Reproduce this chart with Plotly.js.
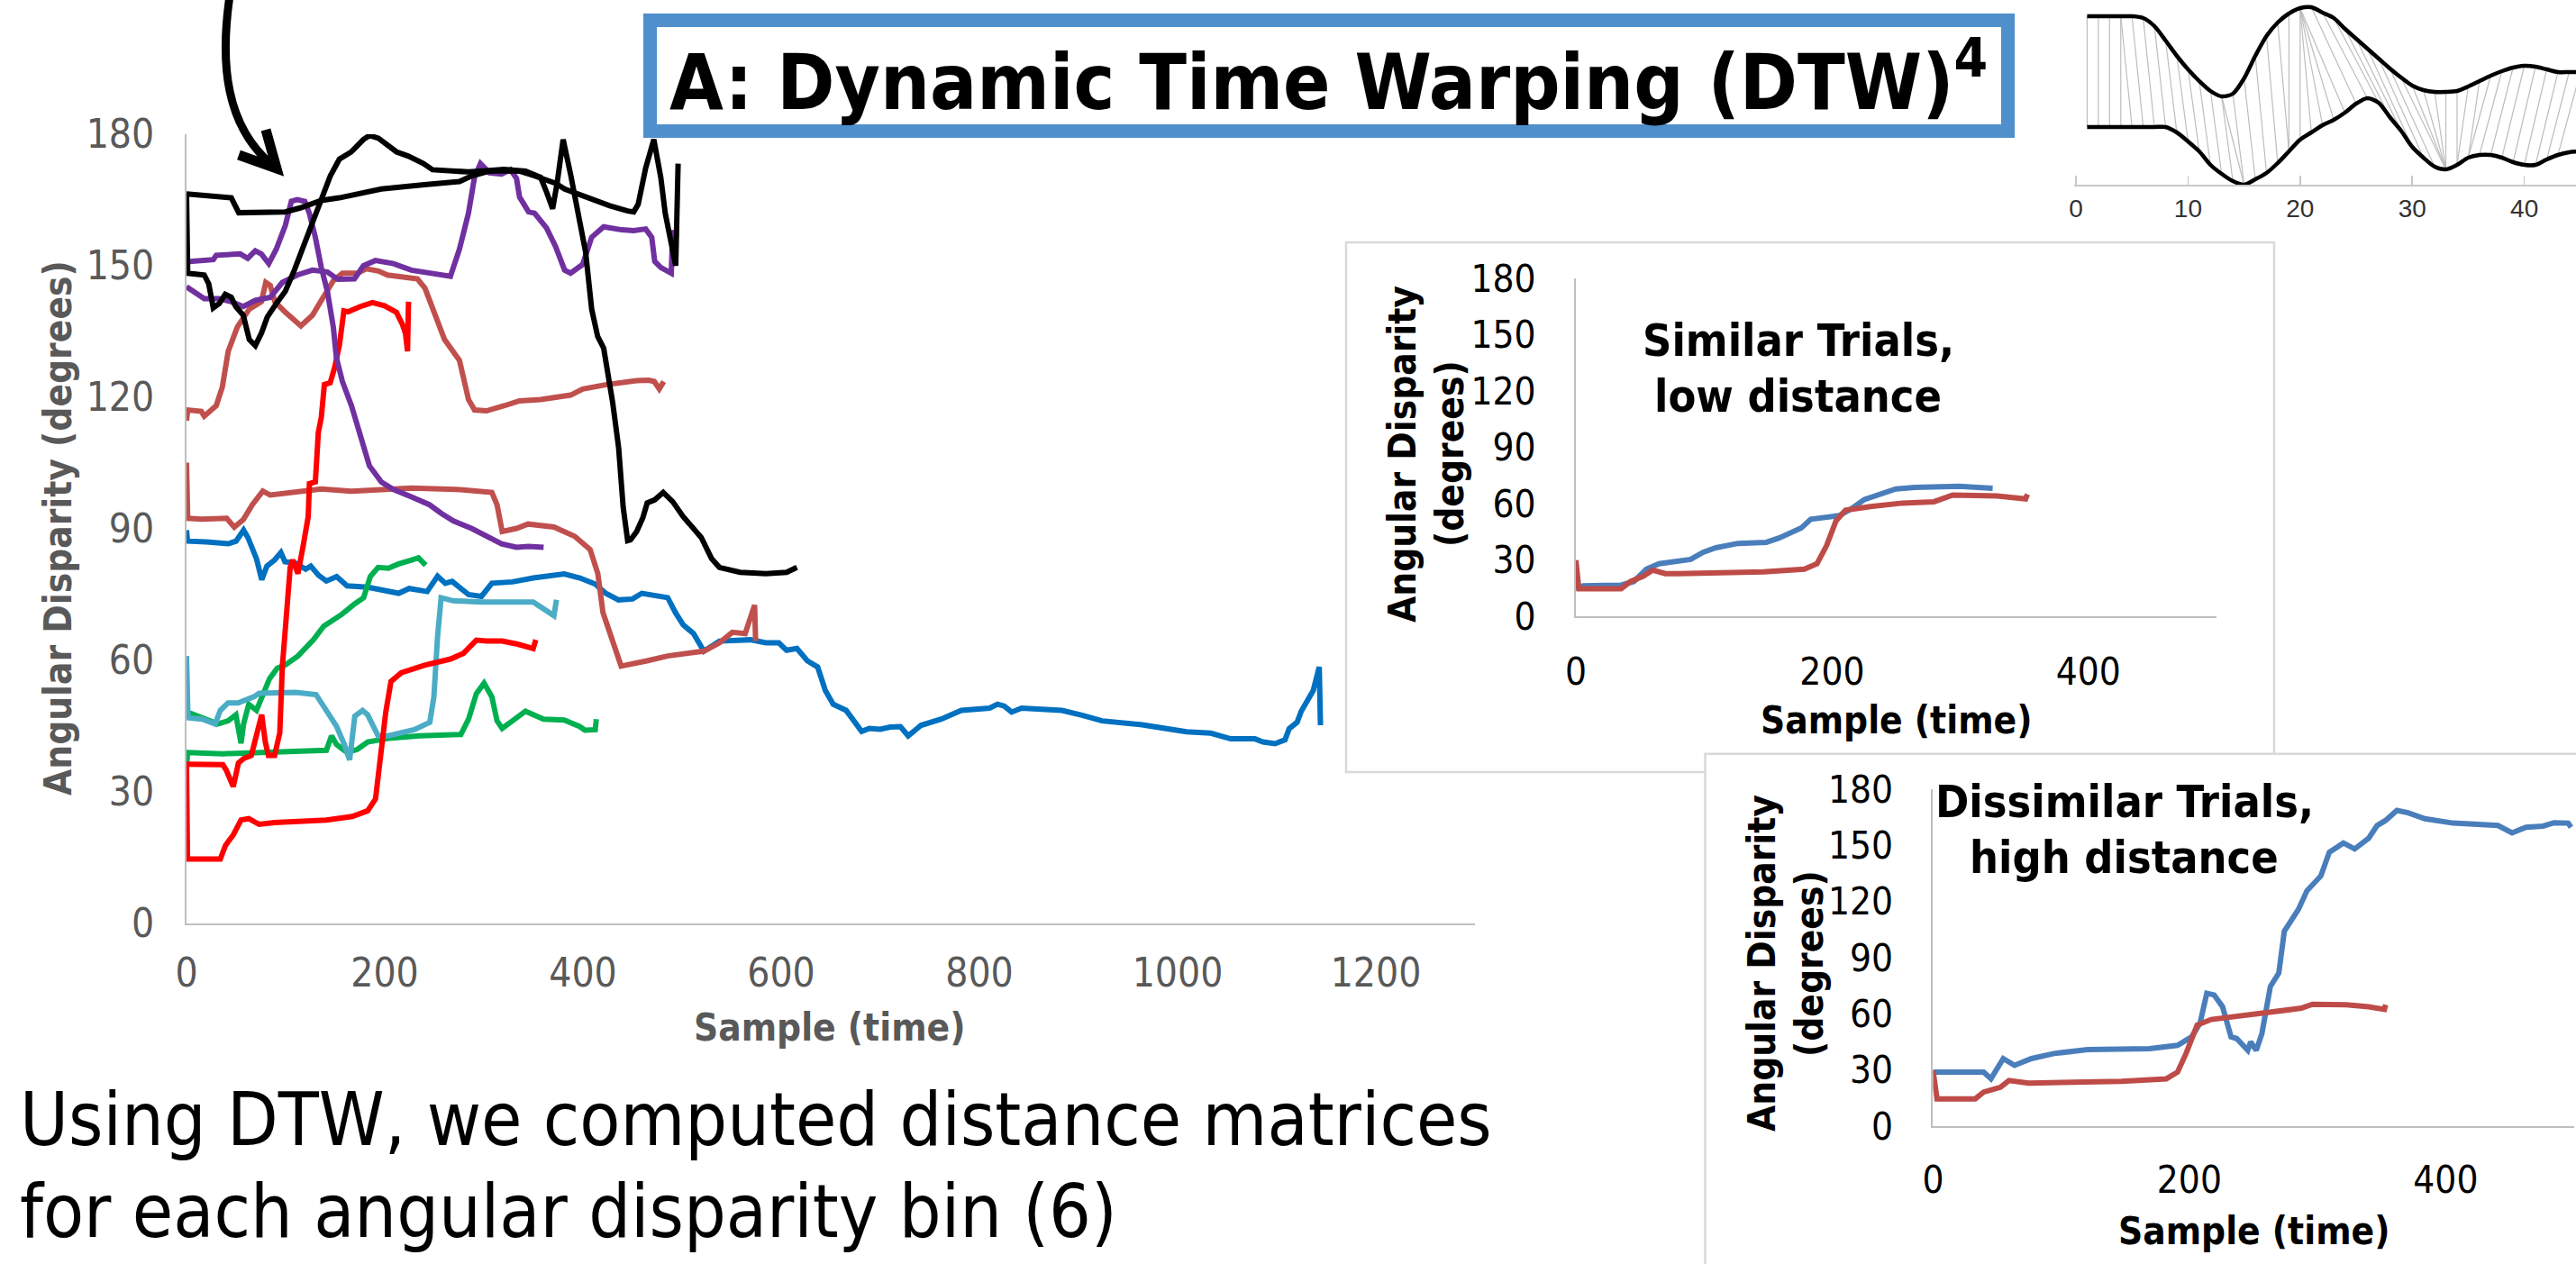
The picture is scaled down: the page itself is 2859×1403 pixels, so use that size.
<!DOCTYPE html>
<html><head><meta charset="utf-8">
<script src="https://cdn.plot.ly/plotly-3.0.1.min.js"></script>
<style>html,body{margin:0;padding:0;background:#fff;overflow:hidden}#chart{width:2859px;height:1403px}</style>
</head><body><div id="chart"></div>
<script>
// ---------- Main chart series: [sample, angular disparity] ----------
const blueMain = [[0,89.7],[1,87.2],[20,87],[42,86.6],[50,87.2],[57.6,89.7],[62,88],[65.4,86],[70.6,83.2],[75.9,78.4],[81.1,81.5],[88.9,82.9],[95.2,84.6],[99.3,82.5],[109.8,82.2],[120.2,80.8],[125.4,81.5],[133.3,79.4],[141.1,78.1],[151.5,79.1],[162,77],[182.8,76.7],[214.1,75.3],[224.6,76.4],[242.8,75.7],[253.3,79.2],[261.1,77.6],[268,78],[284.6,75],[297.6,74.6],[308.1,77.6],[328.9,77.9],[349.8,78.8],[381.1,79.7],[396.8,78.8],[412.4,77.4],[422.9,75.3],[435.9,73.8],[450,74],[459.4,75.3],[470,74.8],[485.5,74.3],[493.3,70.9],[501.1,68.1],[511.6,66.1],[522,62.1],[537.7,64.4],[553.3,64.6],[568.9,64.7],[584.6,64],[597.6,64],[605.5,62.3],[615.9,62.7],[626.4,59.9],[636.8,58.5],[644.6,53.1],[652.5,50],[665.5,48.6],[673.3,46.2],[681.2,43.8],[689,44.5],[700,44.3],[710,44.8],[720.3,44.9],[728.1,42.8],[741.2,45.2],[761.5,46.6],[781.8,48.6],[810.2,49.1],[818.3,50],[825,49.6],[832.5,48.2],[842.6,49.1],[883.2,48.6],[903.5,47.5],[923.8,46.2],[964.4,45.3],[992.8,44.4],[1009,43.7],[1033.4,43.4],[1053.6,42.1],[1078,42.1],[1086.1,41.4],[1098.3,41],[1108.4,41.9],[1112.5,44.4],[1120.6,45.9],[1124.7,48.4],[1130.8,51],[1136.8,53.1],[1142.9,58.5],[1144.1,45.2]];
const greenRise = [[0,48.3],[2.8,48],[15.9,46.9],[31.5,45.5],[42,46.2],[49.8,47.6],[55,41.1],[57.6,45.5],[62.8,50],[70.6,48.6],[75.9,51.7],[83.7,55.8],[91.5,58.2],[99.3,58.9],[112.4,61],[128.1,64.7],[138.5,67.8],[156.7,70.5],[169.8,72.9],[178.7,74.3],[185.4,79.1],[193.3,81.2],[203.7,81],[214.1,82],[227.2,82.9],[234,83.4],[241.3,81.7]];
const greenLow = [[0,35.3],[1,39],[36.7,38.7],[88,39],[141.1,39.5],[146.3,42.8],[151.5,40.8],[161.9,39],[172.4,39.7],[182.8,41.4],[203.7,42.2],[235,42.8],[276.8,43.1],[284.6,46.6],[292.4,52.4],[300.2,54.8],[308.1,51.7],[313.3,46.2],[318.5,44.5],[328.9,46.2],[342,48.4],[360.3,46.6],[381.1,46.4],[396.8,44.9],[402,44.1],[412.4,44.2],[413.5,46.6]];
const lightBlue = [[0,61],[1.5,46.9],[15.9,46.6],[28.9,45.5],[34.1,48.6],[41.9,50.3],[52,50.3],[68,51.7],[73.3,52.5],[88.9,52.7],[110,52.7],[130.7,52.2],[138.5,49.6],[151.5,44.9],[159.4,40.7],[164.6,37.3],[169.8,47.3],[177.6,48.6],[182.8,47.6],[193.3,42.8],[203.7,42.8],[229.8,44.2],[245.5,45.9],[249.6,51.7],[253.3,65.4],[256.9,74.3],[268.9,73.6],[297.6,73.3],[349.8,73.3],[360.3,71.6],[370.7,70.2],[373.3,73.8]];
const brownHigh = [[0,114.7],[1.2,117.1],[14.9,116.8],[17.9,115.7],[30,118.1],[36.1,122.3],[42.1,130.5],[51.2,136],[63.3,140.1],[75.5,141.8],[80,146.2],[84.5,145.5],[89.1,141.8],[99.7,139.4],[115.4,136.3],[127,138.7],[136,142.1],[148.2,146.6],[157.3,148.3],[172.4,148.3],[181.5,149.3],[193.6,148.8],[202.7,147.9],[233,147],[240.6,144.9],[251.2,138.7],[260.3,133.2],[275.4,128.4],[284.5,119.5],[290.6,117.1],[302.7,116.9],[320.9,118.1],[336,119.2],[357.2,119.5],[387.5,120.5],[399.7,121.9],[423.9,122.9],[454.2,123.8],[466.3,123.9],[472,123.6],[477,121.9],[481.5,123.6]];
const brownMid = [[0,105.1],[1.2,92.4],[14.9,92.2],[40.6,92.4],[48.2,90.4],[57.3,92.1],[66.4,95.5],[77,98.6],[84.5,97.7],[105.8,98.3],[136,99.1],[166.4,98.6],[226.9,99.3],[272.4,99],[308.1,98.3],[313.3,95.5],[318.5,89.4],[333,90.1],[344.6,91.1],[370.7,90.4],[391.6,88.3],[407.2,85.3],[415,79.8],[420.2,70.9],[428.1,65.4],[438.5,58.7],[464.6,59.9],[485.5,61],[522,62.1],[537.7,64],[550.7,66.4],[563.7,66.1],[573.2,72.6],[574.2,64.4]];
const redHigh = [[0,36.3],[36.7,36.2],[40,35],[47.2,31.2],[52.4,36.6],[57.6,37.6],[65.4,38.3],[73.3,46.2],[75.9,47.6],[79.5,41.4],[82.6,38.3],[88.9,38.3],[94.1,43.5],[96.7,58.6],[100.4,68.8],[104.6,81.2],[107.2,82.9],[112.4,79.8],[117.6,86],[122.8,92.8],[124,100.3],[130,100.7],[133,112],[136,115.4],[139.1,122.9],[145,123.3],[149.7,127],[154.2,131.8],[158.8,139.7],[163,139.5],[175.4,140.7],[187.6,141.6],[199.7,140.9],[211.8,139.4],[217.9,136.6],[220.9,134.6],[223,130.5],[224,141.8]];
const redLow = [[0,36.3],[1,14.7],[34.1,14.7],[39.3,17.8],[47.2,20.2],[55,23.6],[62.8,23.9],[73.3,22.6],[88.9,23],[141.1,23.6],[167.2,24.4],[182.8,25.7],[190.7,28.4],[195.9,38],[201.1,48.3],[206.3,55.2],[216.8,57.2],[240.2,58.9],[266.3,60.3],[279.4,61.6],[292.4,64.6],[302.8,64.4],[318.5,64.4],[334.1,63.7],[349.8,62.7],[352.4,64.7]];
const purpleFall = [[0,150.9],[27,151.4],[30,152.4],[54.2,152.7],[61.8,151.7],[69.4,153.4],[75.5,152.7],[83,150.5],[90.6,153.8],[99.7,159.2],[105.8,164.7],[111.8,165.1],[119.4,164.7],[123.9,162],[130,156.5],[136,149.6],[142.1,144.2],[148.2,135.9],[151.2,129.1],[157.3,123.6],[166.4,118.1],[172.4,113.3],[178.5,108.6],[184.5,104.4],[196.6,100.7],[208.8,99],[226.9,97.3],[245.1,95.5],[257.3,93.5],[269.4,91.8],[287.6,90.1],[305.7,88],[317.9,86.6],[333,85.8],[345,86],[360.3,85.8]];
const purpleHigh = [[0,145.2],[8.8,143.8],[17.9,142.5],[33,142.5],[45.2,141.8],[57.3,140.7],[69.4,142.1],[84.5,142.8],[96.7,146.2],[111.8,147.9],[127,149],[142.1,148.6],[152.7,146.9],[169.4,147],[178.5,150],[190.6,151.2],[208.8,150.5],[226.9,149],[245.1,148.3],[266.3,147.6],[275.4,153.8],[284.5,162],[290.6,170.2],[296.6,173.3],[305.7,171.2],[317.9,170.9],[326.9,171.9],[333,169.9],[336,165.7],[345.1,162.3],[351.2,162],[363.3,158.6],[372.4,154.4],[381.5,149],[387.5,148.3],[399.7,150.3],[408.8,156.5],[420.9,158.9],[439.1,158.2],[451.2,158],[463.3,158.4],[469.4,156.5],[472.4,151],[478.5,149.6],[489.1,148.3],[490.6,158.2]];
const blackFlat = [[0,166.4],[45.2,165.5],[52.7,162.1],[75.5,162.1],[99.7,162.3],[114.8,163.2],[136,164.9],[154.2,165.5],[196.6,167.5],[240,168.5],[275.4,169.2],[287.6,170.5],[305.7,171.6],[320.9,171.7],[336,171.6],[351.2,170.5],[372.4,168.8],[381.5,167.5],[405.7,165.4],[427,163.7],[445,162.5],[451.2,162.3],[455.7,164],[463.3,172.3],[471.5,178.8],[478.5,170.2],[483,162],[493.6,150],[496,173.3]];
const blackDrop = [[0,166.4],[1.2,148.3],[17.9,147.9],[22.4,145.9],[27,140.4],[33,141.4],[39.1,143.5],[45.2,142.8],[49.7,140.7],[57.3,138.7],[63.3,133.2],[69.4,131.8],[75.5,134.6],[81.5,138.3],[90.6,141.4],[99.7,144.2],[108.8,149],[117.9,154.4],[127,159.9],[136,165.4],[145.1,170.5],[154.2,174.3],[166.4,176],[178.5,178.8],[184.5,179.7],[193.6,179.1],[202.7,177.7],[211.8,176],[223.9,175],[239.1,173.3],[248.2,171.9],[266.3,171.6],[284.5,171.4],[302.7,171.7],[320,172],[342.1,171.6],[352,170.8],[357.2,170.2],[363.3,166.8],[369.4,163],[373.9,168.8],[380,178.8],[387.5,170.9],[393.6,163.3],[402.7,153.1],[408.8,140.1],[414.8,133.9],[420.9,131.2],[430,118.8],[436,108.5],[440.6,94.9],[445.1,87.3],[448,87.5],[454.2,89.4],[460.4,92.5],[464.8,95.9],[472.4,96.6],[481,98.3],[490.6,96.2],[501.1,92.8],[511.6,90.1],[519.4,88],[529.8,83.2],[537.7,81.2],[558.5,80.1],[584.6,79.8],[605.5,80.1],[615.9,81.2]];

// ---------- Inset: similar trials ----------
const similarBlue = [[0,14.7],[5.7,16.2],[35.3,16.6],[45.2,18.5],[55,25.1],[64.9,28],[89.6,30.3],[99.4,34.1],[109.3,36.5],[126.5,38.8],[148.7,39.4],[158.6,41.7],[175.9,47],[183.3,51.7],[205.5,53.6],[215.3,57.4],[225.2,62.2],[249.8,67.8],[264.6,68.6],[299.2,69.2],[325.3,68.2]];
const similarRed = [[0,29.9],[2.3,14.7],[35.3,14.7],[42.7,18.5],[52.6,21.3],[60,24.6],[69.8,22.7],[79.7,22.7],[146.3,23.6],[178.3,25.1],[188.2,28],[195.6,37.5],[203,50.8],[210.4,56.5],[230.1,58.4],[254.8,60.3],[279.4,61],[294.2,64.6],[328.8,64.1],[351,62.5],[352.4,65]];

// ---------- Inset: dissimilar trials ----------
const dissimilarBlue = [[0,28.9],[39.5,28.9],[45.2,25.3],[54.8,36.1],[63.6,32.5],[76.8,36.1],[94.3,38.8],[120.6,40.9],[168.9,41.4],[190.8,43.2],[201.8,47.7],[208.3,54.9],[213.6,71],[219.3,70.1],[225.9,63.8],[232.5,47.7],[236.9,46.8],[245.6,40.5],[247.8,45],[252.2,40.5],[256.6,49.5],[263.2,74.6],[269.8,81.8],[274.1,104.2],[285.1,115.8],[291.7,125.7],[302.6,133.7],[309.2,146.3],[320.2,151.3],[329,148.1],[339.9,153.8],[346.5,160.6],[353.1,163.3],[361.9,168.7],[370.6,167.4],[383.8,164.2],[405.7,161.9],[440.8,160.6],[451.8,156.7],[462.7,159.7],[475.9,160.3],[484.7,162.1],[495.6,161.9],[497.8,159.7]];
const dissimilarRed = [[0,29.8],[3.1,14.6],[32.9,14.6],[39.5,18.2],[52.6,20.8],[59.2,24.4],[74.6,23],[98.7,23.3],[147,23.9],[182,25.3],[190.8,28.9],[197.4,38.8],[206.1,54],[217.1,57],[243.4,59.2],[274.1,61.2],[287.3,63],[296.1,65.1],[322.4,64.8],[339.9,63.8],[352.2,62.4],[353.1,64.8]];

// ---------- DTW illustration (samples 1..45) ----------
const dtwSamples = [1,2,3,4,5,6,7,8,9,10,11,12,13,14,15,16,17,18,19,20,21,22,23,24,25,26,27,28,29,30,31,32,33,34,35,36,37,38,39,40,41,42,43,44,45];
const dtwUpper = [187,187,187,187,187,185,176,160,143,128,115,104,98,101,118,143,165,180,190,196,197,191,185,173,162,151,140,129,119,110,105,103,103,104,109,115,121,126,130,132,131,128,125,125,125];
const dtwLower = [64,64,64,64,64,64,64,64,58,48,37,22,12,4,0,6,13,24,37,50,58,66,72,80,90,96,91,75,60,42,30,20,17,22,30,33,33,30,25,22,22,28,33,36,37];
const warpUpperIdx = [1,2,3,4,4,5,6,7,8,9,10,11,12,13,13,14,15,16,17,18,19,20,20,20,20,20,21,22,23,24,25,26,27,28,29,30,31,32,33,34,35,36,37,38,39,40,41,42,43,44,45];
const warpLowerIdx = [1,2,3,4,5,6,7,8,9,10,11,12,13,14,15,15,16,17,18,19,19,20,21,22,23,24,25,26,27,28,29,30,31,32,33,33,33,33,33,34,34,35,35,36,37,38,39,40,41,42,43];

const mainXTicks = [0,200,400,600,800,1000,1200];
const degTicks = [0,30,60,90,120,150,180];
const insetXTicks = [0,200,400];
const dtwTicks = [0,10,20,30,40];

// ---------- helpers ----------
const W = 2859, H = 1403;
const px = v => v / W;
const py = v => 1 - v / H;
const TICKFONT = '"Liberation Sans Narrow", "DejaVu Sans Condensed", sans-serif';
const TFONT = '"DejaVu Sans Condensed", "DejaVu Sans", sans-serif';

function tr(pts, color, xa, ya, width) {
  return {x: pts.map(p => p[0]), y: pts.map(p => p[1]), xaxis: xa, yaxis: ya, type: 'scatter',
    mode: 'lines', line: {color: color, width: width, shape: 'linear'}, hoverinfo: 'skip', showlegend: false};
}

const traces = [
  tr(blueMain, '#0070C0', 'x', 'y', 6),
  tr(greenRise, '#00B050', 'x', 'y', 6),
  tr(greenLow, '#00B050', 'x', 'y', 6),
  tr(lightBlue, '#4BACC6', 'x', 'y', 6),
  tr(brownHigh, '#C0504D', 'x', 'y', 6),
  tr(brownMid, '#C0504D', 'x', 'y', 6),
  tr(redHigh, '#FF0000', 'x', 'y', 6),
  tr(redLow, '#FF0000', 'x', 'y', 6),
  tr(purpleFall, '#7030A0', 'x', 'y', 6),
  tr(purpleHigh, '#7030A0', 'x', 'y', 6),
  tr(blackFlat, '#000000', 'x', 'y', 6),
  tr(blackDrop, '#000000', 'x', 'y', 6),
  tr(similarBlue, '#4A7EBB', 'x2', 'y2', 6),
  tr(similarRed, '#BE4B48', 'x2', 'y2', 6),
  tr(dissimilarBlue, '#4A7EBB', 'x3', 'y3', 6),
  tr(dissimilarRed, '#BE4B48', 'x3', 'y3', 6)
];

// warping connectors (index pairs into the two signals)
const wx = [], wy = [];
for (let i = 0; i < warpUpperIdx.length; i++) {
  const u = warpUpperIdx[i] - 1, l = warpLowerIdx[i] - 1;
  wx.push(dtwSamples[u], dtwSamples[l], null);
  wy.push(dtwUpper[u], dtwLower[l], null);
}
traces.push({x: wx, y: wy, xaxis: 'x4', yaxis: 'y4', type: 'scatter', mode: 'lines',
  line: {color: '#BDBDBD', width: 1.2}, hoverinfo: 'skip', showlegend: false, connectgaps: false});
traces.push({x: dtwSamples, y: dtwUpper, xaxis: 'x4', yaxis: 'y4', type: 'scatter', mode: 'lines',
  line: {color: '#000', width: 4.5, shape: 'spline', smoothing: 0.8}, hoverinfo: 'skip', showlegend: false});
traces.push({x: dtwSamples, y: dtwLower, xaxis: 'x4', yaxis: 'y4', type: 'scatter', mode: 'lines',
  line: {color: '#000', width: 4.5, shape: 'spline', smoothing: 0.8}, hoverinfo: 'skip', showlegend: false});

function axis(domain, range, tickvals, color, size, standoff, anchor) {
  return {domain: domain, range: range, tickvals: tickvals, ticktext: tickvals.map(String), anchor: anchor,
    showline: true, linecolor: '#BFBFBF', linewidth: 2, showgrid: false, zeroline: false, ticks: '',
    tickfont: {family: TICKFONT, size: size, color: color}, ticklabelstandoff: standoff, fixedrange: true};
}

const layout = {
  width: W, height: H, margin: {l: 0, r: 0, t: 0, b: 0}, paper_bgcolor: '#fff', plot_bgcolor: 'rgba(0,0,0,0)',
  showlegend: false,
  xaxis: axis([px(207), px(1637)], [0, 1300], mainXTicks, '#595959', 44, 15, 'y'),
  yaxis: axis([py(1025), py(149)], [0, 180], degTicks, '#595959', 44, 25, 'x'),
  xaxis2: axis([px(1749), px(2460)], [0, 500], insetXTicks, '#000', 42, 24, 'y2'),
  yaxis2: axis([py(684), py(309)], [0, 180], degTicks, '#000', 42, 34, 'x2'),
  xaxis3: axis([px(2145.4), px(2856.6)], [0, 500], insetXTicks, '#000', 42, 22, 'y3'),
  yaxis3: axis([py(1250), py(876)], [0, 180], degTicks, '#000', 42, 34, 'x3'),
  xaxis4: {domain: [px(2302), 1], range: [-0.16, 44.61], tickvals: dtwTicks, anchor: 'y4',
    showline: true, linecolor: '#C8C8C8', linewidth: 2, showgrid: false, zeroline: false,
    ticks: 'inside', ticklen: 10, tickwidth: 1.5, tickcolor: '#C8C8C8',
    tickfont: {family: '"Liberation Sans", Arial, sans-serif', size: 28, color: '#333'}, ticklabelstandoff: 0, fixedrange: true},
  yaxis4: {domain: [py(205), 1], range: [0, 205], anchor: 'x4', visible: false, fixedrange: true},
  shapes: [
    {type: 'rect', xref: 'paper', yref: 'paper', x0: px(1494), x1: px(2524), y0: py(269), y1: py(857),
      line: {color: '#D9D9D9', width: 2.5}, fillcolor: '#fff', layer: 'below'},
    {type: 'rect', xref: 'paper', yref: 'paper', x0: px(1892.5), x1: px(2890), y0: py(836.7), y1: py(1430),
      line: {color: '#D9D9D9', width: 2.5}, fillcolor: '#fff', layer: 'below'},
    {type: 'rect', xref: 'paper', yref: 'paper', x0: px(721.5), x1: px(2228.5), y0: py(22.5), y1: py(145.5),
      line: {color: '#4F8FCC', width: 15}, fillcolor: '#fff', layer: 'above'},
    {type: 'path', xref: 'paper', yref: 'paper', layer: 'above',
      path: 'M ' + px(255) + ' ' + py(-5) + ' C ' + px(244) + ' ' + py(70) + ', ' + px(250) + ' ' + py(140) + ', ' + px(303) + ' ' + py(184),
      line: {color: '#000', width: 9}},
    {type: 'path', xref: 'paper', yref: 'paper', layer: 'above',
      path: 'M ' + px(265) + ' ' + py(172) + ' L ' + px(307) + ' ' + py(187) + ' L ' + px(295) + ' ' + py(144),
      line: {color: '#000', width: 11}}
  ],
  annotations: [
    {text: 'A: Dynamic Time Warping (DTW)<sup>4</sup>', x: px(1475), y: py(85), xref: 'paper', yref: 'paper',
      showarrow: false, xanchor: 'center', yanchor: 'middle', font: {family: TFONT, size: 86, weight: 'bold', color: '#000'}},
    {text: 'Angular Disparity (degrees)', x: px(64), y: py(586), xref: 'paper', yref: 'paper', textangle: -90,
      showarrow: false, xanchor: 'center', yanchor: 'middle', font: {family: TFONT, size: 42, weight: 'bold', color: '#595959'}},
    {text: 'Sample (time)', x: px(920), y: py(1140), xref: 'paper', yref: 'paper',
      showarrow: false, xanchor: 'center', yanchor: 'middle', font: {family: TFONT, size: 42, weight: 'bold', color: '#595959'}},
    {text: 'Similar Trials,', x: px(1996), y: py(378), xref: 'paper', yref: 'paper',
      showarrow: false, xanchor: 'center', yanchor: 'middle', font: {family: TFONT, size: 50, weight: 'bold', color: '#000'}},
    {text: 'low distance', x: px(1995), y: py(440), xref: 'paper', yref: 'paper',
      showarrow: false, xanchor: 'center', yanchor: 'middle', font: {family: TFONT, size: 50, weight: 'bold', color: '#000'}},
    {text: 'Angular Disparity', x: px(1557), y: py(504), xref: 'paper', yref: 'paper', textangle: -90,
      showarrow: false, xanchor: 'center', yanchor: 'middle', font: {family: TFONT, size: 42, weight: 'bold', color: '#000'}},
    {text: '(degrees)', x: px(1610), y: py(504), xref: 'paper', yref: 'paper', textangle: -90,
      showarrow: false, xanchor: 'center', yanchor: 'middle', font: {family: TFONT, size: 42, weight: 'bold', color: '#000'}},
    {text: 'Sample (time)', x: px(2104), y: py(799), xref: 'paper', yref: 'paper',
      showarrow: false, xanchor: 'center', yanchor: 'middle', font: {family: TFONT, size: 42, weight: 'bold', color: '#000'}},
    {text: 'Dissimilar Trials,', x: px(2358), y: py(890), xref: 'paper', yref: 'paper', bgcolor: '#fff', borderpad: 0,
      showarrow: false, xanchor: 'center', yanchor: 'middle', font: {family: TFONT, size: 50, weight: 'bold', color: '#000'}},
    {text: 'high distance', x: px(2357), y: py(952), xref: 'paper', yref: 'paper',
      showarrow: false, xanchor: 'center', yanchor: 'middle', font: {family: TFONT, size: 50, weight: 'bold', color: '#000'}},
    {text: 'Angular Disparity', x: px(1955), y: py(1069), xref: 'paper', yref: 'paper', textangle: -90,
      showarrow: false, xanchor: 'center', yanchor: 'middle', font: {family: TFONT, size: 42, weight: 'bold', color: '#000'}},
    {text: '(degrees)', x: px(2008), y: py(1069), xref: 'paper', yref: 'paper', textangle: -90,
      showarrow: false, xanchor: 'center', yanchor: 'middle', font: {family: TFONT, size: 42, weight: 'bold', color: '#000'}},
    {text: 'Sample (time)', x: px(2501), y: py(1366), xref: 'paper', yref: 'paper',
      showarrow: false, xanchor: 'center', yanchor: 'middle', font: {family: TFONT, size: 42, weight: 'bold', color: '#000'}},
    {text: 'Using DTW, we computed distance matrices', x: px(20), y: py(1242), xref: 'paper', yref: 'paper',
      showarrow: false, xanchor: 'left', yanchor: 'middle', font: {family: TFONT, size: 82, color: '#000'}},
    {text: 'for each angular disparity bin (6)', x: px(20), y: py(1344), xref: 'paper', yref: 'paper',
      showarrow: false, xanchor: 'left', yanchor: 'middle', font: {family: TFONT, size: 82, color: '#000'}}
  ]
};

Plotly.newPlot('chart', traces, layout, {displayModeBar: false, staticPlot: true});
</script></body></html>
